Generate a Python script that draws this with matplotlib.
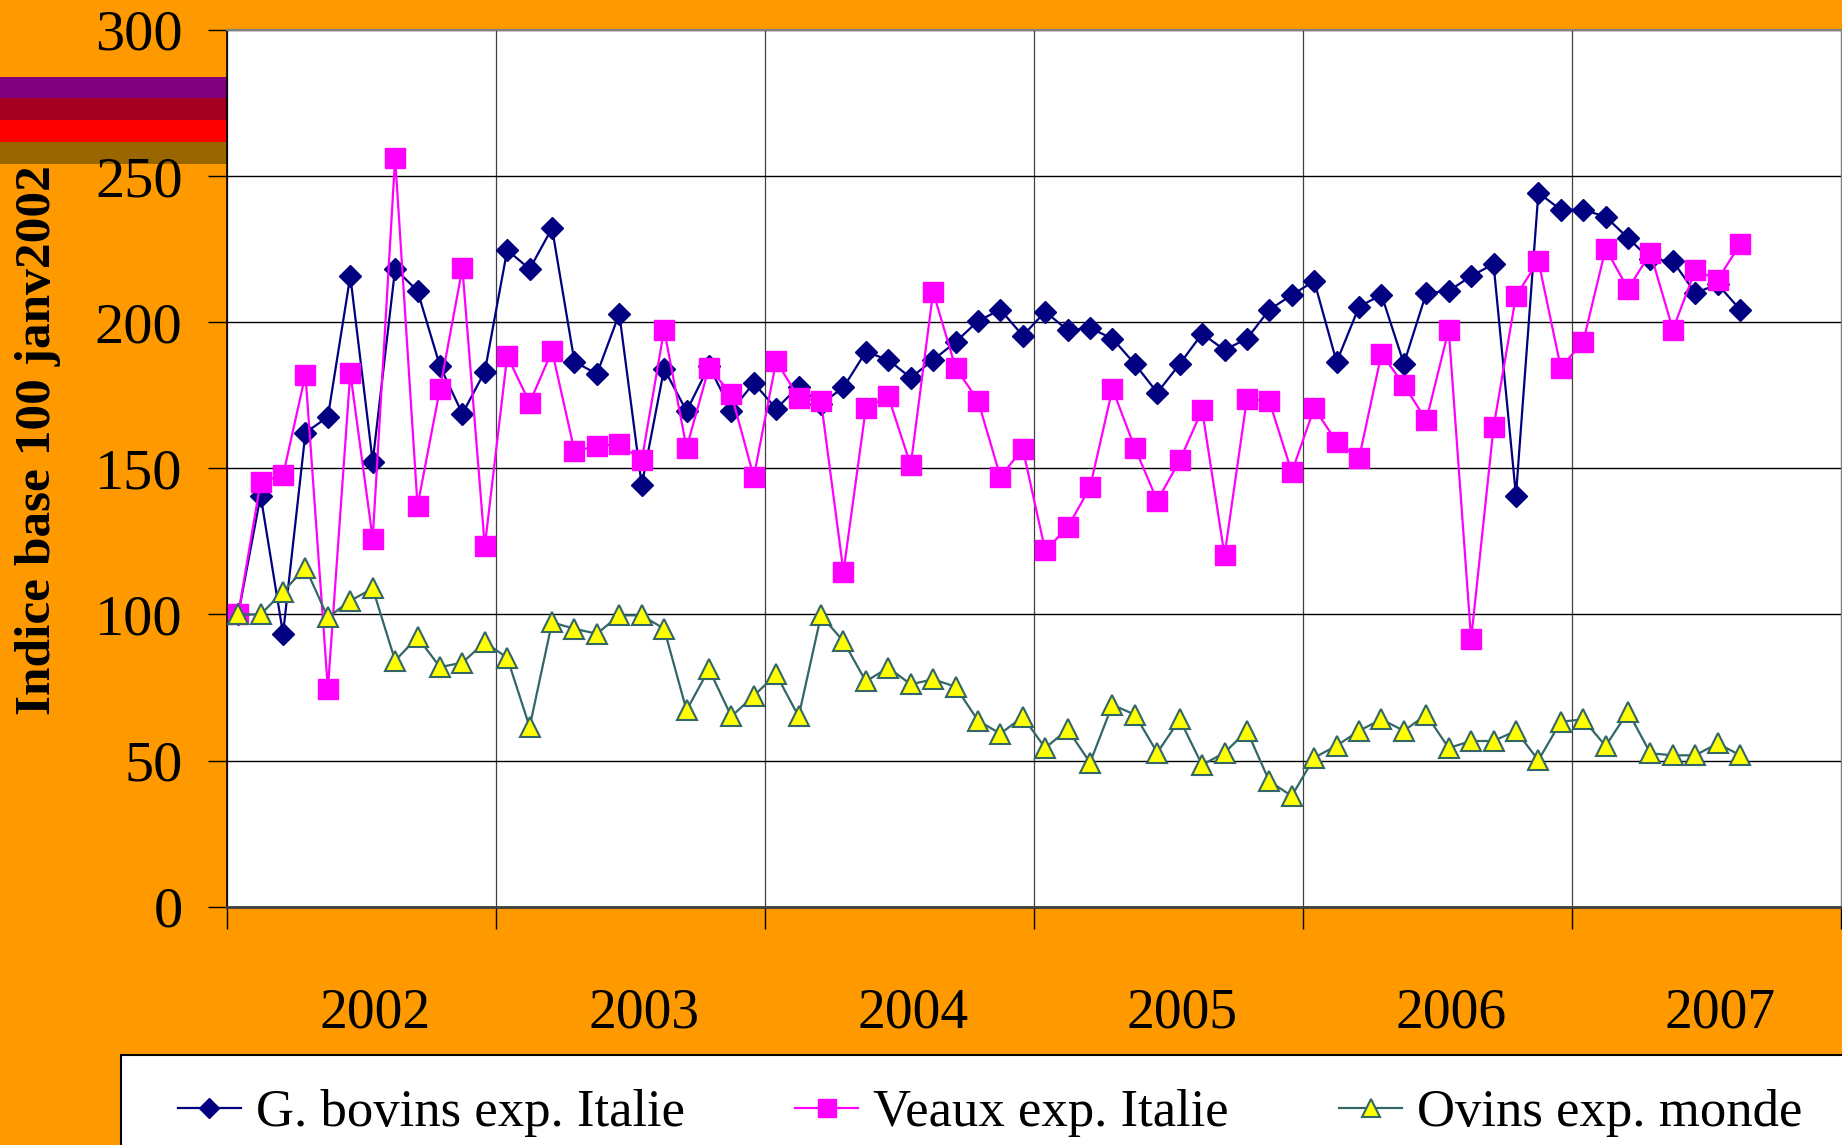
import numpy as np
import matplotlib
matplotlib.use('Agg')
import matplotlib.pyplot as plt
from matplotlib.patches import Rectangle

plt.rcParams['font.family'] = ['Liberation Serif', 'DejaVu Serif']

# Monthly index values, base 100 = January 2002 (Jan 2002 .. Aug 2007)
bovins = [100.0, 140.7, 93.4, 162.2, 167.6, 215.8, 152.3, 218.3, 210.7, 185.0, 168.7, 183.1,
          224.7, 218.2, 232.2, 186.5, 182.3, 202.9, 144.2, 184.1, 169.6, 185.0, 169.7, 179.2,
          170.4, 178.0, 172.0, 177.7, 189.9, 187.1, 181.0, 187.1, 193.2, 200.4, 204.3, 195.4,
          203.6, 197.3, 198.0, 194.4, 185.7, 175.9, 185.7, 196.1, 190.5, 194.4, 204.3, 209.3,
          214.1, 186.4, 205.3, 209.4, 185.8, 210.0, 210.7, 215.8, 219.9, 140.7, 244.3, 238.5,
          238.5, 236.1, 228.8, 221.5, 220.9, 210.0, 213.0, 204.3]
veaux = [100.0, 145.4, 147.6, 182.1, 74.6, 182.7, 125.9, 256.2, 137.2, 177.2, 218.5, 123.3,
         188.5, 172.4, 190.2, 156.0, 157.5, 158.4, 152.7, 197.5, 157.0, 184.5, 175.3, 147.1,
         186.7, 174.2, 172.9, 114.6, 170.7, 174.6, 151.0, 210.4, 184.5, 173.2, 147.1, 156.7,
         121.9, 129.8, 143.5, 177.2, 157.0, 138.9, 152.7, 170.0, 120.2, 173.9, 172.9, 148.7,
         170.6, 159.1, 153.4, 189.2, 178.6, 166.4, 197.5, 91.5, 164.0, 209.0, 221.0, 184.5,
         193.3, 225.2, 211.4, 223.7, 197.5, 217.8, 214.6, 226.7]
ovins = [100.0, 100.0, 107.8, 116.0, 99.0, 104.7, 108.9, 84.2, 92.2, 82.0, 83.5, 90.5,
         85.2, 61.5, 97.3, 95.1, 93.4, 99.7, 99.7, 95.1, 67.2, 81.3, 65.1, 72.2,
         79.5, 65.1, 99.7, 90.8, 77.1, 81.8, 76.1, 77.8, 75.3, 63.7, 59.2, 65.0,
         54.3, 60.7, 49.3, 69.1, 65.7, 52.7, 64.1, 48.5, 52.7, 60.2, 42.9, 37.9,
         51.0, 55.1, 60.2, 64.1, 60.2, 65.7, 54.3, 56.7, 56.7, 60.2, 50.1, 63.3,
         64.1, 55.0, 66.7, 52.5, 51.8, 51.8, 55.9, 51.8]
years = ['2002', '2003', '2004', '2005', '2006', '2007']
labels = ['G. bovins exp. Italie', 'Veaux exp. Italie', 'Ovins exp. monde']

W, H = 1842, 1145
fig = plt.figure(figsize=(W / 100, H / 100), dpi=100, facecolor='#FF9900')

# decorative colour bands on the left strip
bands = [(77, 98, '#800080'), (98, 120, '#A50021'), (120, 142, '#FF0000'), (142, 164, '#996600')]
for top, bot, col in bands:
    fig.patches.append(Rectangle((0, 1 - bot / H), 227 / W, (bot - top) / H,
                                 transform=fig.transFigure, facecolor=col,
                                 edgecolor='none', zorder=-1))

# legend box
fig.patches.append(Rectangle((121 / W, -0.01), 1, (H - 1055) / H + 0.01,
                             transform=fig.transFigure, facecolor='white',
                             edgecolor='black', lw=1.5, zorder=-1))

ax = fig.add_axes([227 / W, (H - 906.7) / H, (1841 - 227) / W, (906.7 - 30) / H])
ax.set_facecolor('white')

x = np.arange(len(bovins)) + 0.5
ax.plot(x, bovins, '-D', color='#000080', lw=1.6, ms=11, label=labels[0], zorder=3)
ax.plot(x, veaux, '-s', color='#FF00FF', lw=1.6, ms=15, label=labels[1], zorder=4)
ax.plot(x, ovins, '-^', color='#336666', lw=1.6, ms=15, mfc='#FFFF00', mec='#336666',
        mew=1.5, label=labels[2], zorder=5)

ax.set_xlim(0, 72)
ax.set_ylim(0, 300)
ax.set_yticks(range(0, 301, 50))
ax.tick_params(axis='y', length=14, width=1, direction='out', pad=18, labelsize=42)

ax.set_xticks(np.arange(0, 73, 12))
ax.set_xticklabels([])
ax.set_xticks(np.arange(len(years)) * 12 + 6.6, minor=True)
ax.set_xticklabels(years, minor=True)
ax.tick_params(axis='x', which='major', length=16, width=1, direction='out')
ax.tick_params(axis='x', which='minor', length=0, pad=58, labelsize=40)

ax.grid(axis='y', color='black', lw=1.0)
ax.grid(axis='x', which='major', color='#404040', lw=0.9)
ax.set_axisbelow(True)

ax.spines['top'].set_color('#808080')
ax.spines['top'].set_linewidth(1.5)
ax.spines['right'].set_color('#808080')
ax.spines['left'].set_color('black')
ax.spines['left'].set_linewidth(1.2)
ax.spines['bottom'].set_color('#404040')
ax.spines['bottom'].set_linewidth(2)

fig.text(38 / W, 1 - 440 / H, 'Indice base 100 janv2002', rotation=90,
         ha='center', va='center', fontsize=37, fontweight='bold')

fig.legend(loc='center left', bbox_to_anchor=(178 / W, (H - 1113) / H), ncol=3,
           frameon=False, fontsize=38, borderpad=0, borderaxespad=0,
           handlelength=1.19, handletextpad=0.28, columnspacing=2.1, markerscale=0.9)

fig.savefig('out.png', dpi=100, facecolor=fig.get_facecolor())
